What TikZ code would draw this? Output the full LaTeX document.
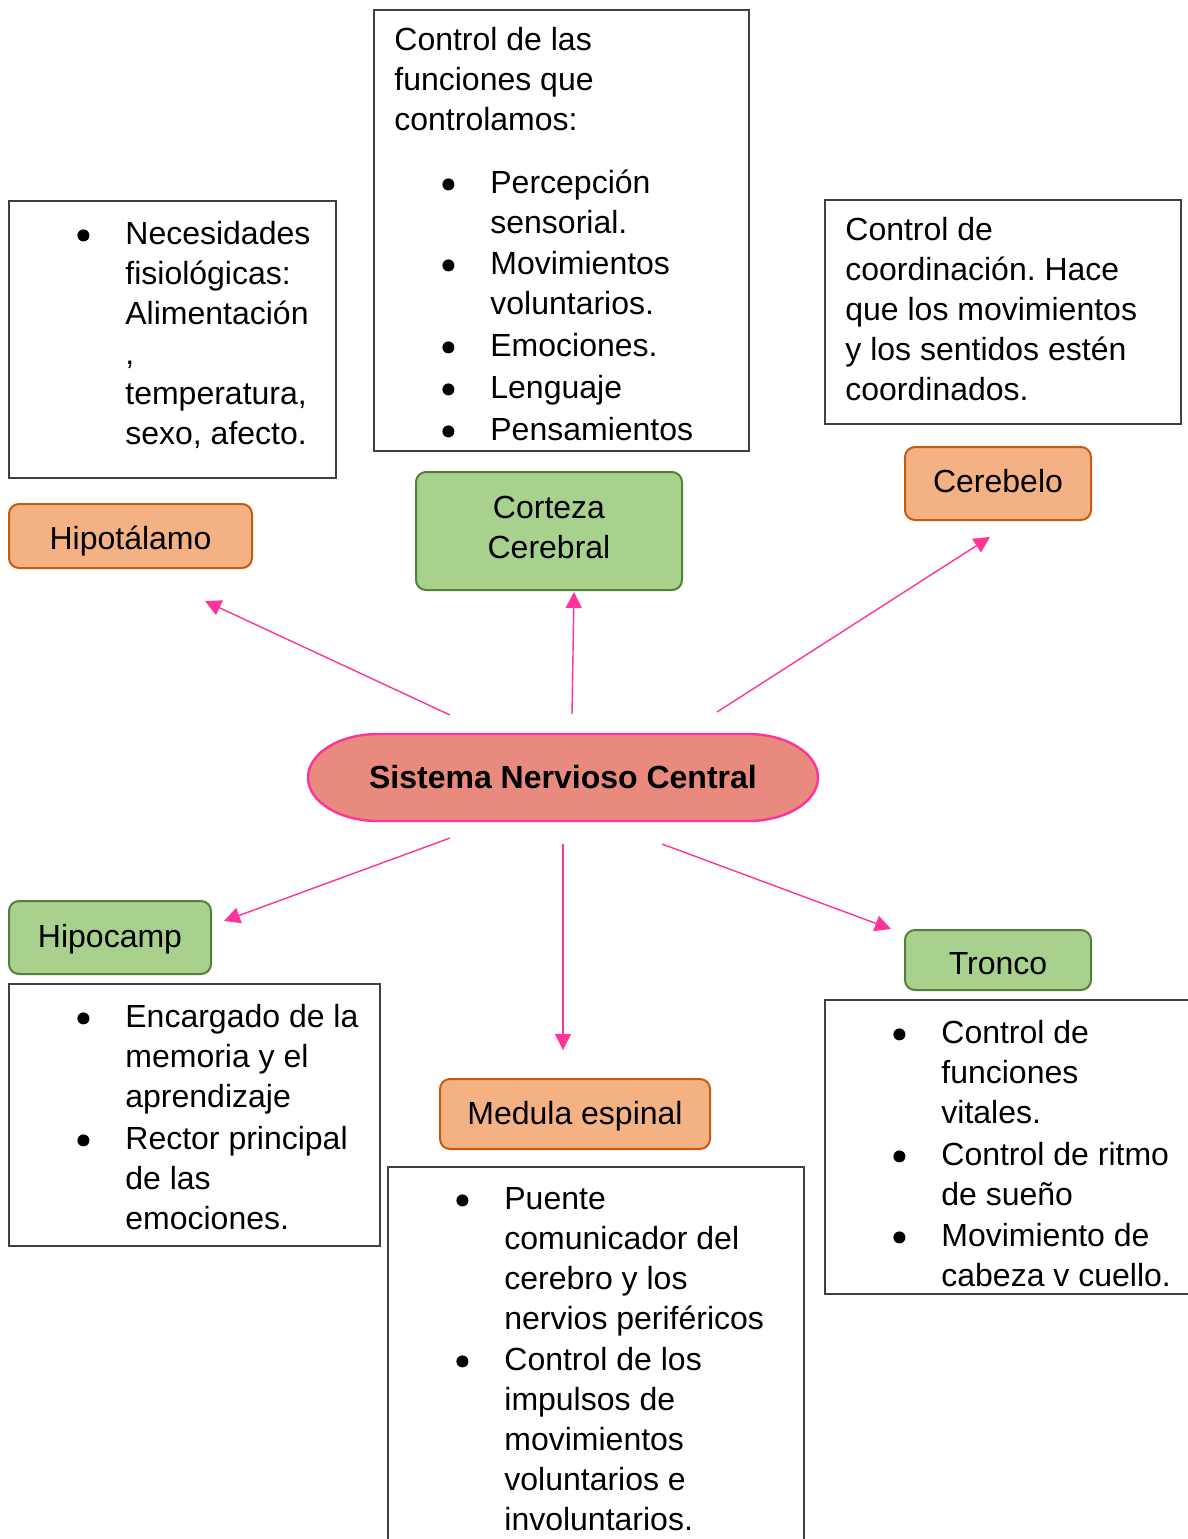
\documentclass[tikz,border=0pt]{standalone}
\usepackage{fontspec}
\setmainfont{Liberation Sans}
\usetikzlibrary{arrows.meta}
\definecolor{naranja}{HTML}{F4B183}
\definecolor{naranjaborde}{HTML}{C55A11}
\definecolor{verde}{HTML}{A9D18E}
\definecolor{verdeborde}{HTML}{538135}
\definecolor{salmon}{HTML}{E88A7D}
\definecolor{rosa}{HTML}{FF3399}
\newcommand{\punto}{\tikz[baseline=0pt]\fill (0pt,4.5pt) circle (3pt);}
\newcommand{\bu}{\llap{\punto\hspace{18pt}}}
\frenchspacing

\begin{document}
\begin{tikzpicture}[x=0.5pt,y=-0.5pt,
    texto/.style={anchor=north west,inner sep=0pt,align=left,font=\fontsize{16}{20}\selectfont},
    caja/.style={draw=black!75,line width=0.6pt},
    tema/.style={rounded corners=5pt,line width=1pt,inner sep=0pt,align=center,font=\fontsize{16}{20}\selectfont},
    naranjo/.style={tema,fill=naranja,draw=naranjaborde},
    verdoso/.style={tema,fill=verde,draw=verdeborde},
    flecha/.style={draw=rosa,line width=0.7pt,-{Triangle[length=8pt,width=8pt]}}]

    \useasboundingbox (0,0) rectangle (1188,1539);

    % centro
    \filldraw[fill=salmon,draw=rosa,line width=1.2pt] (378,734) -- (748,734)
      arc[start angle=90,end angle=-90,x radius=35pt,y radius=21.75pt] -- (378,821)
      arc[start angle=270,end angle=90,x radius=35pt,y radius=21.75pt] -- cycle;
    \node[minimum width=255pt,minimum height=43.5pt,font=\fontsize{16}{20}\selectfont\bfseries] (snc) at (563,777.5) {Sistema Nervioso Central};

    % partes
    \node[naranjo,minimum width=121.5pt,minimum height=32pt,text height=15pt,text depth=2pt] (hipot) at (130.5,536) {Hipotálamo};
    \node[verdoso,minimum width=133pt,minimum height=59pt] (corteza) at (549,531) {Corteza\\Cerebral\rule[-4pt]{0pt}{0pt}};
    \node[naranjo,minimum width=93pt,minimum height=36.5pt,text height=12pt,text depth=3.5pt] (cerebelo) at (998,483.5) {Cerebelo};
    \node[verdoso,minimum width=101pt,minimum height=36.5pt,text height=13pt,text depth=3.5pt] (hipocamp) at (110,937.5) {Hipocamp};
    \node[naranjo,minimum width=135pt,minimum height=35pt,text height=13pt,text depth=3pt] (medula) at (575,1114) {Medula espinal};
    \node[verdoso,minimum width=93pt,minimum height=30pt,text height=15.5pt,text depth=1pt] (tronco) at (998,960) {Tronco};

    % cuadros de texto
    \draw[caja] (9,201) rectangle (336,478);
    \node[texto] (hipottxt) at (125,216) {\strut\bu Necesidades\\ fisiológicas:\\ Alimentación\\ ,\\ temperatura,\\ sexo, afecto.};

    \draw[caja] (374,10) rectangle (749,451);
    \node[texto] (cortezatxt) at (394,22) {\strut Control de las\\ funciones que\\ controlamos:\\[11.5pt]
      \hspace*{48pt}\bu Percepción\\ \hspace*{48pt}sensorial.\\[0.5pt]
      \hspace*{48pt}\bu Movimientos\\ \hspace*{48pt}voluntarios.\\[1pt]
      \hspace*{48pt}\bu Emociones.\\[1pt]
      \hspace*{48pt}\bu Lenguaje\\[1pt]
      \hspace*{48pt}\bu Pensamientos};

    \draw[caja] (825,200) rectangle (1181,424);
    \node[texto] (cerebelotxt) at (845,212) {\strut Control de\\ coordinación. Hace\\ que los movimientos\\ y los sentidos estén\\ coordinados.};

    \draw[caja] (9,984) rectangle (380,1246);
    \node[texto] (hipocamptxt) at (125,999) {\strut\bu Encargado de la\\ memoria y el\\ aprendizaje\\[1pt]
      \bu Rector principal\\ de las\\ emociones.};

    \draw[caja] (388,1539) |- (804,1167) -- (804,1539);
    \node[texto] (medulatxt) at (504,1181) {\strut\bu Puente\\ comunicador del\\ cerebro y los\\ nervios periféricos\\[0.5pt]
      \bu Control de los\\ impulsos de\\ movimientos\\ voluntarios e\\ involuntarios.};

    \draw[caja] (1188,1000) -| (825,1294) -- (1188,1294);
    \node[texto] (troncotxt) at (941,1015) {\strut\bu Control de\\ funciones\\ vitales.\\[1pt]
      \bu Control de ritmo\\ de sueño\\[0.5pt]
      \bu Movimiento de\\ cabeza v cuello.};

    % flechas
    \coordinate (s1) at (450,715);  \coordinate (t1) at (205,601);
    \coordinate (s2) at (572,714);  \coordinate (t2) at (574,592);
    \coordinate (s3) at (717,712);  \coordinate (t3) at (990,537);
    \coordinate (s4) at (450,838);  \coordinate (t4) at (224,921);
    \coordinate (s5) at (563,844);  \coordinate (t5) at (563,1050);
    \coordinate (s6) at (662,844);  \coordinate (t6) at (891,929);
    \foreach \i in {1,...,6} {
      \draw[flecha] (s\i) -- (t\i);
    }

\end{tikzpicture}
\end{document}
